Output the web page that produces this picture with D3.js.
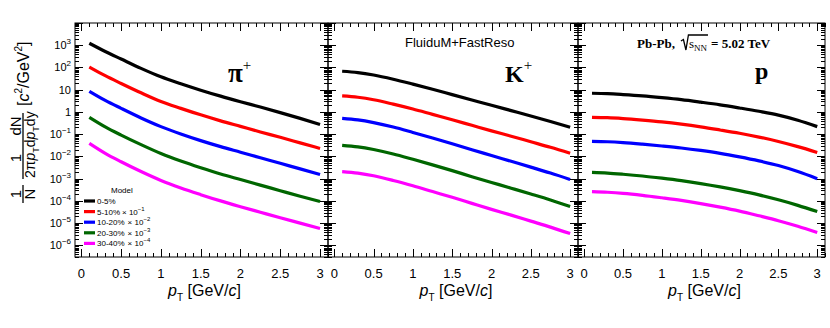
<!DOCTYPE html>
<html><head><meta charset="utf-8">
<script src="https://cdn.jsdelivr.net/npm/d3@7"></script>
<style>body{margin:0;background:#fff} svg{display:block} text{white-space:pre}</style>
</head><body><svg id="c" width="830" height="328"></svg>
<script>
// ---------------- DATA ----------------
const pT = [0.1, 0.3, 0.5, 0.75, 1.0, 1.25, 1.5, 1.75, 2.0, 2.25, 2.5, 2.75, 3.0];
const centralities = ["0-5%", "5-10%", "10-20%", "20-30%", "30-40%"];
const scaleExponents = [null, -1, -2, -3, -4];
const xTickLabels = ["0", "0.5", "1", "1.5", "2", "2.5", "3"];
const yTickExponents = [-6, -5, -4, -3, -2, -1, 0, 1, 2, 3];
const panelLabels = ["π", "K", "p"];
const panelSup = ["+", "+", ""];

// pi+ spectra (scaled)
const pion_0_5   = [1.23e3, 5.25e2, 2.40e2, 9.12e1, 3.80e1, 1.86e1, 9.55, 5.13, 2.88, 1.66, 9.33e-1, 5.13e-1, 2.75e-1];
const pion_5_10  = [1.05e2, 4.27e1, 1.91e1, 7.24, 2.95, 1.45, 7.41e-1, 3.98e-1, 2.24e-1, 1.26e-1, 7.24e-2, 4.07e-2, 2.29e-2];
const pion_10_20 = [8.51, 3.31, 1.45, 5.37e-1, 2.19e-1, 1.02e-1, 5.13e-2, 2.75e-2, 1.55e-2, 8.71e-3, 4.90e-3, 2.75e-3, 1.55e-3];
const pion_20_30 = [5.75e-1, 2.14e-1, 9.12e-2, 3.39e-2, 1.35e-2, 6.17e-3, 3.09e-3, 1.62e-3, 9.12e-4, 5.13e-4, 2.88e-4, 1.62e-4, 9.33e-5];
const pion_30_40 = [3.89e-2, 1.38e-2, 5.75e-3, 2.09e-3, 8.32e-4, 3.80e-4, 1.91e-4, 1.00e-4, 5.50e-5, 3.09e-5, 1.74e-5, 1.00e-5, 5.75e-6];
// K+ spectra (scaled)
const kaon_0_5   = [6.76e1, 5.89e1, 4.57e1, 2.95e1, 1.78e1, 1.05e1, 6.03, 3.47, 2.00, 1.15, 6.61e-1, 3.72e-1, 2.04e-1];
const kaon_5_10  = [5.25, 4.57, 3.55, 2.24, 1.35, 7.76e-1, 4.47e-1, 2.51e-1, 1.41e-1, 8.13e-2, 4.57e-2, 2.57e-2, 1.38e-2];
const kaon_10_20 = [5.13e-1, 4.37e-1, 3.31e-1, 2.09e-1, 1.20e-1, 6.76e-2, 3.72e-2, 2.00e-2, 1.10e-2, 6.03e-3, 3.31e-3, 1.78e-3, 9.12e-4];
const kaon_20_30 = [3.16e-2, 2.69e-2, 2.04e-2, 1.29e-2, 7.41e-3, 4.17e-3, 2.29e-3, 1.23e-3, 6.76e-4, 3.72e-4, 2.04e-4, 1.10e-4, 5.62e-5];
const kaon_30_40 = [2.09e-3, 1.78e-3, 1.35e-3, 8.32e-4, 4.79e-4, 2.63e-4, 1.45e-4, 7.76e-5, 4.17e-5, 2.29e-5, 1.23e-5, 6.61e-6, 3.39e-6];
// protons (scaled)
const proton_0_5   = [6.92, 6.61, 6.03, 5.25, 4.37, 3.55, 2.75, 2.09, 1.51, 1.07, 7.24e-1, 4.27e-1, 2.19e-1];
const proton_5_10  = [5.75e-1, 5.50e-1, 5.01e-1, 4.27e-1, 3.55e-1, 2.82e-1, 2.14e-1, 1.55e-1, 1.10e-1, 7.41e-2, 4.68e-2, 2.75e-2, 1.51e-2];
const proton_10_20 = [4.79e-2, 4.57e-2, 4.17e-2, 3.55e-2, 2.95e-2, 2.40e-2, 1.86e-2, 1.38e-2, 9.55e-3, 6.31e-3, 3.89e-3, 2.09e-3, 1.00e-3];
const proton_20_30 = [1.91e-3, 1.78e-3, 1.58e-3, 1.32e-3, 1.05e-3, 8.13e-4, 6.03e-4, 4.27e-4, 2.88e-4, 1.86e-4, 1.12e-4, 6.31e-5, 3.31e-5];
const proton_30_40 = [2.63e-4, 2.45e-4, 2.19e-4, 1.78e-4, 1.38e-4, 1.05e-4, 7.59e-5, 5.25e-5, 3.47e-5, 2.14e-5, 1.29e-5, 7.24e-6, 3.80e-6];

const panelSeries = [
  [pion_0_5, pion_5_10, pion_10_20, pion_20_30, pion_30_40],
  [kaon_0_5, kaon_5_10, kaon_10_20, kaon_20_30, kaon_30_40],
  [proton_0_5, proton_5_10, proton_10_20, proton_20_30, proton_30_40]
];
const colors = ["#000000", "#ff0000", "#0000ff", "#006600", "#ff00ff"];

// ---------------- LAYOUT ----------------
const svg = d3.select("#c");
const SANS = "'Liberation Sans', Arial, Helvetica, sans-serif";
const SERIF = "'Liberation Serif', 'Times New Roman', serif";
const yTop = 23, yBot = 257;
const panels = [{x0: 75, x1: 328}, {x0: 328, x1: 578}, {x0: 578, x1: 825}];
const y = d3.scaleLog().domain([3e-7, 1e4]).range([yBot, yTop]);

panels.forEach((P, pi) => {
  const x = d3.scaleLinear().domain([-0.08, 3.1]).range([P.x0, P.x1]);
  const g = svg.append("g");

  // curves
  const line = d3.line().x((d, i) => x(pT[i])).y(d => y(d)).curve(d3.curveMonotoneX);
  panelSeries[pi].forEach((s, k) => {
    g.append("path").attr("d", line(s)).attr("fill", "none")
      .attr("stroke", colors[k]).attr("stroke-width", 3.2).attr("stroke-linejoin", "round");
  });

  // frame
  g.append("rect").attr("x", P.x0).attr("y", yTop).attr("width", P.x1 - P.x0).attr("height", yBot - yTop)
    .attr("fill", "none").attr("stroke", "#000").attr("stroke-width", 1);

  // x ticks
  const xt = g.append("g").attr("stroke", "#000").attr("stroke-width", 1);
  for (let i = 0; i <= 31; i++) {
    const v = i * 0.1;
    if (v > 3.1 + 1e-9) continue;
    const major = i % 5 === 0;
    const len = major ? 8 : 4;
    const xx = Math.round(x(v)) + 0.5;
    xt.append("line").attr("x1", xx).attr("x2", xx).attr("y1", yBot).attr("y2", yBot - len);
    xt.append("line").attr("x1", xx).attr("x2", xx).attr("y1", yTop).attr("y2", yTop + len);
  }
  xTickLabels.forEach((lab, i) => {
    g.append("text").attr("x", x(i * 0.5)).attr("y", 278).attr("text-anchor", "middle")
      .attr("font-family", SANS).attr("font-size", 13).text(lab);
  });
  // x title
  const xtTitle = g.append("text").attr("x", (P.x0 + P.x1) / 2 + 3).attr("y", 296)
    .attr("text-anchor", "middle").attr("font-family", SANS).attr("font-size", 16);
  xtTitle.append("tspan").attr("font-style", "italic").text("p");
  xtTitle.append("tspan").attr("font-size", 10).attr("dy", 5).text("T");
  xtTitle.append("tspan").attr("dy", -5).text(" [GeV/");
  xtTitle.append("tspan").attr("font-style", "italic").text("c");
  xtTitle.append("tspan").text("]");

  // y ticks
  const yt = g.append("g").attr("stroke", "#000").attr("stroke-width", 1);
  for (let e = -7; e <= 4; e++) {
    for (let m = 1; m <= 9; m++) {
      const v = m * Math.pow(10, e);
      if (v < 3e-7 || v > 1e4 * 1.0001) continue;
      const len = m === 1 ? 8 : 4;
      const yy = Math.round(y(v)) + 0.5;
      yt.append("line").attr("x1", P.x0).attr("x2", P.x0 + len).attr("y1", yy).attr("y2", yy);
      yt.append("line").attr("x1", P.x1).attr("x2", P.x1 - len).attr("y1", yy).attr("y2", yy);
    }
  }

  // panel particle label
  const pl = g.append("text").attr("font-family", SERIF).attr("font-weight", "bold")
    .attr("font-size", pi === 0 ? 27 : 24);
  const lx = [228, 505, 755][pi], ly = [82, 82, 79][pi];
  pl.attr("x", lx).attr("y", ly);
  pl.append("tspan").text(panelLabels[pi]);
  if (panelSup[pi]) pl.append("tspan").attr("font-size", 15).attr("font-weight", "normal").attr("dy", -12).text(panelSup[pi]);
});

// y tick labels (panel 1 only)
yTickExponents.forEach(e => {
  const t = svg.append("text").attr("x", 71).attr("y", y(Math.pow(10, e)) + 4)
    .attr("text-anchor", "end").attr("font-family", SANS).attr("font-size", 11);
  if (e === 0) t.text("1");
  else if (e === 1) t.text("10");
  else {
    t.append("tspan").text("10");
    t.append("tspan").attr("font-size", 8).attr("dy", -5).text(e < 0 ? "\u2212" + (-e) : String(e));
  }
});

// y axis title (rotated)
const yg = svg.append("g").attr("transform", "translate(23,150) rotate(-90)")
  .attr("font-family", SANS).attr("font-size", 15);
yg.append("text").attr("x", -44).attr("y", -2.5).attr("text-anchor", "middle").text("1");
yg.append("line").attr("x1", -53).attr("x2", -35).attr("y1", 0).attr("y2", 0).attr("stroke", "#000").attr("stroke-width", 1.3);
yg.append("text").attr("x", -44).attr("y", 12).attr("text-anchor", "middle").text("N");
yg.append("line").attr("x1", -29).attr("x2", 37).attr("y1", 0).attr("y2", 0).attr("stroke", "#000").attr("stroke-width", 1.3);
yg.append("text").attr("x", -8).attr("y", -2.5).attr("text-anchor", "middle").text("1");
yg.append("text").attr("x", 24).attr("y", -2.5).attr("text-anchor", "middle").text("dN");
const den = yg.append("text").attr("x", -28).attr("y", 12).attr("font-size", 14);
den.append("tspan").text("2");
den.append("tspan").text("\u03c0");
den.append("tspan").attr("font-style", "italic").text("p");
den.append("tspan").attr("font-size", 9).attr("dy", 4).text("T");
den.append("tspan").attr("dy", -4).text("d");
den.append("tspan").attr("font-style", "italic").text("p");
den.append("tspan").attr("font-size", 9).attr("dy", 4).text("T");
den.append("tspan").attr("dy", -4).text("dy");
const unit = yg.append("text").attr("x", 44).attr("y", 6).attr("font-size", 16);
unit.append("tspan").text("[");
unit.append("tspan").attr("font-style", "italic").text("c");
unit.append("tspan").attr("font-size", 10).attr("dy", -7).text("2");
unit.append("tspan").attr("dy", 7).text("/GeV");
unit.append("tspan").attr("font-size", 10).attr("dy", -7).text("2");
unit.append("tspan").attr("dy", 7).text("]");

// legend
const leg = svg.append("g").attr("font-family", SANS).attr("font-size", 8);
leg.append("text").attr("x", 111).attr("y", 193).text("Model");
centralities.forEach((c, k) => {
  const yy = 201 + k * 10.6;
  leg.append("line").attr("x1", 84).attr("x2", 95).attr("y1", yy).attr("y2", yy)
    .attr("stroke", colors[k]).attr("stroke-width", 3.2);
  const t = leg.append("text").attr("x", 97).attr("y", yy + 3);
  t.append("tspan").text(c);
  if (scaleExponents[k] !== null) {
    const mul = t.append("tspan").text("\u00d7 10");
    if (k === 1) mul.attr("x", 122); else mul.attr("dx", 3);
    t.append("tspan").attr("font-size", 6).attr("dy", -4).text("\u2212" + (-scaleExponents[k]));
  }
});

// annotation texts
svg.append("text").attr("x", 405).attr("y", 47).attr("font-family", SANS).attr("font-size", 13)
  .text("FluiduM+FastReso");

const ann = svg.append("g").attr("font-family", SERIF).attr("font-weight", "bold").attr("font-size", 13);
const a1 = ann.append("text").attr("x", 637).attr("y", 48).text("Pb-Pb,");
const w1 = a1.node().getComputedTextLength();
const rx = 637 + w1 + 6;
const a2 = ann.append("text").attr("x", rx + 8).attr("y", 48);
a2.append("tspan").attr("font-weight", "normal").text("s");
a2.append("tspan").attr("font-size", 9).attr("font-weight", "normal").attr("dy", 3).text("NN");
const w2 = a2.node().getComputedTextLength();
ann.append("path").attr("d", `M${rx},41 L${rx + 2.5},39.5 L${rx + 5},50 L${rx + 7.5},35 L${rx + 8 + w2 + 1},35`)
  .attr("fill", "none").attr("stroke", "#000").attr("stroke-width", 1.3);
ann.append("text").attr("x", rx + 8 + w2 + 4).attr("y", 48).text("= 5.02 TeV");
</script></body></html>
